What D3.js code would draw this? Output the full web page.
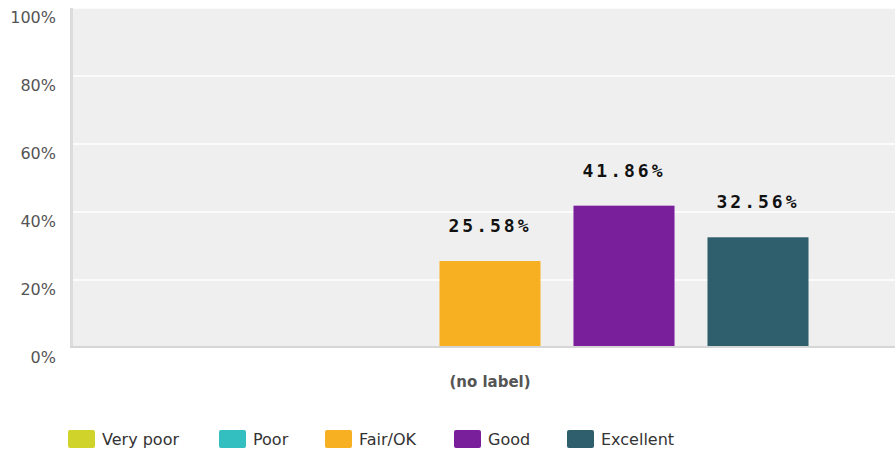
<!DOCTYPE html>
<html><head><meta charset="utf-8">
<script src="https://cdn.jsdelivr.net/npm/d3@7"></script>
<style>body{margin:0;background:#fff}svg{display:block}</style>
</head><body>
<svg id="c" width="895" height="452"></svg>
<script>
const categories = ["(no label)"];
const seriesNames = ["Very poor","Poor","Fair/OK","Good","Excellent"];
const seriesColors = ["#d0d42a","#33bfbf","#f7b022","#7a1f9c","#2f5f6d"];
const seriesValues = [0, 0, 25.58, 41.86, 32.56];
const yTicks = [0,20,40,60,80,100];

const svg = d3.select("#c");
const L = 70, T = 8, R = 895, B = 348;
const y = d3.scaleLinear().domain([0,100]).range([B, T]);
const x0 = d3.scaleBand().domain(categories).range([L, 910]).paddingInner(0).paddingOuter(0.1);
const x1 = d3.scaleBand().domain(seriesNames).range([0, x0.bandwidth()]).paddingInner(0.246).paddingOuter(0.235);

svg.append("rect").attr("x", L).attr("y", T).attr("width", R - L).attr("height", B - T).attr("fill", "#efefef");
// gridlines
svg.append("g").selectAll("line").data(yTicks.filter(d => d > 0)).join("line")
  .attr("x1", L).attr("x2", R).attr("y1", d => y(d)).attr("y2", d => y(d))
  .attr("stroke", "#ffffff").attr("stroke-width", 1.5);
// left and bottom edges
svg.append("rect").attr("x", L).attr("y", T).attr("width", 3).attr("height", B - T).attr("fill", "#dcdcdc");
svg.append("rect").attr("x", L).attr("y", B - 2).attr("width", R - L).attr("height", 2).attr("fill", "#d6d6d6");

// y axis labels
const yAxis = d3.axisLeft(y).tickValues(yTicks).tickFormat(d => d + "%").tickSize(0).tickPadding(0);
const ya = svg.append("g").attr("transform", `translate(56,0)`).call(yAxis);
ya.select(".domain").remove();
ya.selectAll("text").attr("font-family", "DejaVu Sans, sans-serif").attr("font-size", 16)
  .attr("fill", "#555").attr("dy", "0.35em").attr("y", 9);

// bars
const g = svg.append("g");
categories.forEach(cat => {
  const data = seriesNames.map((s, i) => ({s, v: seriesValues[i], c: seriesColors[i]}));
  const gg = g.append("g").attr("transform", `translate(${x0(cat)},0)`);
  gg.selectAll("rect").data(data.filter(d => d.v > 0)).join("rect")
    .attr("x", d => x1(d.s)).attr("width", x1.bandwidth())
    .attr("y", d => y(d.v)).attr("height", d => B - 2 - y(d.v))
    .attr("fill", d => d.c);
  gg.selectAll("text").data(data.filter(d => d.v > 0)).join("text")
    .attr("x", d => x1(d.s) + x1.bandwidth() / 2).attr("y", d => y(d.v) - 34)
    .attr("text-anchor", "middle").attr("dominant-baseline", "middle")
    .attr("font-family", "DejaVu Sans Mono, monospace").attr("font-weight", "bold")
    .attr("font-size", 18).attr("letter-spacing", 3).attr("fill", "#111")
    .text(d => d.v.toFixed(2) + "%");
  svg.append("text").attr("x", x0(cat) + x0.bandwidth() / 2).attr("y", 382)
    .attr("text-anchor", "middle").attr("dominant-baseline", "middle")
    .attr("font-family", "DejaVu Sans, sans-serif").attr("font-weight", "bold")
    .attr("font-size", 15).attr("fill", "#555").text(cat);
});

// legend
const legendX = [68, 219, 325, 454, 567];
const lg = svg.append("g");
seriesNames.forEach((s, i) => {
  lg.append("rect").attr("x", legendX[i]).attr("y", 430).attr("width", 27).attr("height", 18)
    .attr("rx", 2).attr("fill", seriesColors[i]);
  lg.append("text").attr("x", legendX[i] + 34).attr("y", 440).attr("dominant-baseline", "middle")
    .attr("font-family", "DejaVu Sans, sans-serif").attr("font-size", 16).attr("fill", "#333").text(s);
});
</script>
</body></html>
